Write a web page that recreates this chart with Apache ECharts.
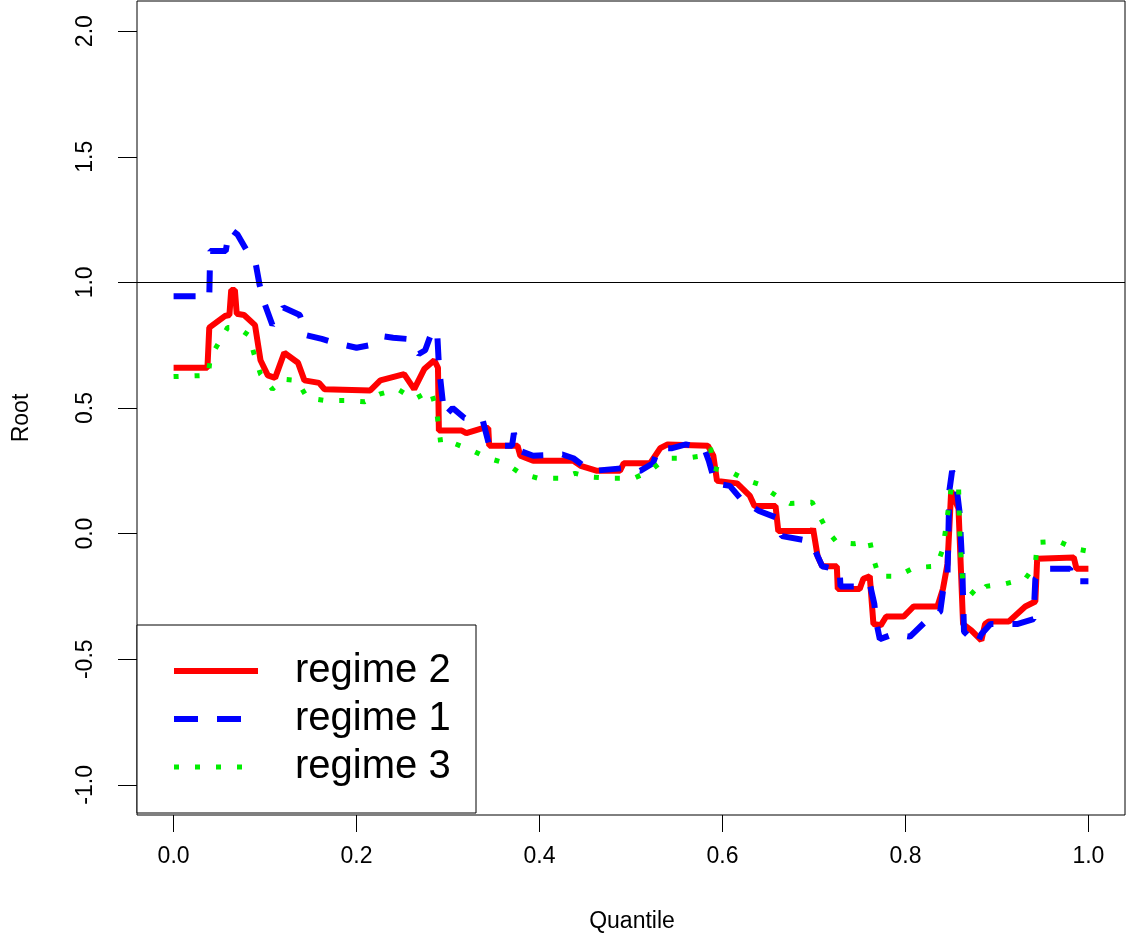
<!DOCTYPE html>
<html>
<head>
<meta charset="utf-8">
<script src="https://cdn.jsdelivr.net/npm/echarts@6/dist/echarts.min.js"></script>
<style>
html, body { margin: 0; padding: 0; background: #fff; }
#chart { width: 1126px; height: 938px; }
</style>
</head>
<body>
<div id="chart"></div>
<script>
// tick values
var xTicks = [0, 0.2, 0.4, 0.6, 0.8, 1.0];
var yTicks = [-1, -0.5, 0, 0.5, 1, 1.5, 2];
var refLevel = 1;

// [quantile, root]
var regime2 = [
  [0.000, 0.66], [0.037, 0.66], [0.039, 0.82], [0.056, 0.866], [0.061, 0.87], [0.063, 0.97],
  [0.067, 0.97], [0.069, 0.875], [0.077, 0.87], [0.089, 0.83], [0.095, 0.69], [0.103, 0.63],
  [0.111, 0.62], [0.121, 0.72], [0.136, 0.68], [0.143, 0.61], [0.159, 0.60], [0.165, 0.575],
  [0.215, 0.57], [0.226, 0.61], [0.252, 0.635], [0.263, 0.575], [0.274, 0.655], [0.285, 0.69],
  [0.289, 0.66], [0.290, 0.41], [0.315, 0.41], [0.320, 0.40], [0.338, 0.42], [0.344, 0.42],
  [0.345, 0.35], [0.376, 0.35], [0.379, 0.31], [0.393, 0.29], [0.437, 0.29], [0.445, 0.27],
  [0.463, 0.25], [0.488, 0.25], [0.492, 0.28], [0.521, 0.28], [0.532, 0.34], [0.540, 0.355],
  [0.584, 0.35], [0.590, 0.31], [0.594, 0.21], [0.616, 0.20], [0.630, 0.15], [0.635, 0.11],
  [0.658, 0.11], [0.661, 0.01], [0.698, 0.01], [0.699, 0.02], [0.704, -0.09], [0.709, -0.13],
  [0.725, -0.13], [0.726, -0.22], [0.750, -0.22], [0.754, -0.18], [0.761, -0.17], [0.765, -0.36],
  [0.773, -0.365], [0.779, -0.33], [0.798, -0.33], [0.809, -0.29], [0.835, -0.29], [0.841, -0.22],
  [0.846, -0.12], [0.850, 0.17], [0.858, 0.10], [0.863, -0.36], [0.872, -0.385], [0.883, -0.425],
  [0.887, -0.36], [0.891, -0.35], [0.913, -0.35], [0.931, -0.29], [0.942, -0.27], [0.944, -0.10],
  [0.984, -0.095], [0.987, -0.14], [1.000, -0.14]
];
var regime1 = [
  [0.000, 0.945], [0.036, 0.945], [0.039, 0.94], [0.040, 1.125], [0.057, 1.125], [0.060, 1.19],
  [0.063, 1.21], [0.070, 1.19], [0.081, 1.12], [0.090, 1.07], [0.094, 0.99], [0.100, 0.91],
  [0.108, 0.83], [0.120, 0.90], [0.138, 0.87], [0.145, 0.79], [0.162, 0.775], [0.181, 0.755],
  [0.200, 0.74], [0.215, 0.75], [0.230, 0.785], [0.240, 0.78], [0.255, 0.775], [0.268, 0.715],
  [0.275, 0.73], [0.282, 0.80], [0.288, 0.81], [0.290, 0.67], [0.292, 0.60], [0.295, 0.50],
  [0.297, 0.47], [0.305, 0.50], [0.318, 0.46], [0.338, 0.45], [0.343, 0.38], [0.345, 0.35],
  [0.370, 0.35], [0.372, 0.40], [0.378, 0.33], [0.393, 0.31], [0.425, 0.315], [0.437, 0.30],
  [0.448, 0.27], [0.460, 0.25], [0.490, 0.26], [0.510, 0.25], [0.524, 0.28], [0.530, 0.34],
  [0.545, 0.34], [0.560, 0.355], [0.580, 0.34], [0.585, 0.29], [0.592, 0.20], [0.608, 0.19],
  [0.622, 0.13], [0.640, 0.09], [0.658, 0.065], [0.665, -0.01], [0.688, -0.025], [0.699, -0.05],
  [0.709, -0.13], [0.728, -0.145], [0.729, -0.21], [0.750, -0.21], [0.761, -0.20], [0.766, -0.28],
  [0.768, -0.35], [0.772, -0.42], [0.787, -0.40], [0.805, -0.41], [0.822, -0.35], [0.838, -0.31],
  [0.841, -0.23], [0.846, -0.16], [0.848, 0.17], [0.851, 0.25], [0.856, 0.18], [0.859, 0.09],
  [0.862, -0.12], [0.864, -0.39], [0.878, -0.44], [0.883, -0.40], [0.893, -0.36], [0.922, -0.36],
  [0.940, -0.34], [0.942, -0.18], [0.950, -0.14], [0.980, -0.14], [0.982, -0.19], [1.000, -0.19]
];
var regime3 = [
  [0.000, 0.625], [0.038, 0.63], [0.040, 0.70], [0.051, 0.77], [0.059, 0.82], [0.070, 0.82],
  [0.082, 0.79], [0.088, 0.715], [0.095, 0.635], [0.108, 0.575], [0.119, 0.615], [0.135, 0.61],
  [0.146, 0.54], [0.165, 0.53], [0.187, 0.53], [0.209, 0.525], [0.225, 0.555], [0.245, 0.575],
  [0.263, 0.535], [0.281, 0.57], [0.287, 0.50], [0.290, 0.42], [0.292, 0.36], [0.306, 0.36],
  [0.327, 0.33], [0.344, 0.30], [0.363, 0.28], [0.379, 0.24], [0.399, 0.22], [0.423, 0.22],
  [0.439, 0.24], [0.456, 0.225], [0.480, 0.22], [0.503, 0.22], [0.521, 0.25], [0.538, 0.30],
  [0.560, 0.30], [0.579, 0.31], [0.587, 0.34], [0.590, 0.26], [0.612, 0.24], [0.625, 0.215],
  [0.641, 0.195], [0.659, 0.15], [0.674, 0.12], [0.698, 0.125], [0.706, 0.07], [0.715, 0.01],
  [0.725, -0.035], [0.744, -0.04], [0.761, -0.03], [0.765, -0.10], [0.771, -0.17], [0.791, -0.17],
  [0.810, -0.135], [0.834, -0.13], [0.841, -0.06], [0.850, 0.18], [0.858, 0.20], [0.859, 0.04],
  [0.861, -0.115], [0.863, -0.20], [0.878, -0.25], [0.888, -0.21], [0.909, -0.20], [0.931, -0.18],
  [0.942, -0.125], [0.944, -0.035], [0.967, -0.03], [0.985, -0.06], [1.000, -0.07]
];

var myChart = echarts.init(document.getElementById('chart'), null, { renderer: 'canvas' });
var font = '"Liberation Sans", Arial, sans-serif';
var red = '#ff0000', blue = '#0000ff', green = '#00ee00';

var option = {
  backgroundColor: '#fff',
  animation: false,
  grid: {
    left: 137, right: 1, top: 1, bottom: 123,
    show: true, borderColor: '#000', borderWidth: 1, backgroundColor: 'transparent'
  },
  xAxis: {
    type: 'value', min: -0.04, max: 1.04,
    splitLine: { show: false },
    axisLine: { show: false, onZero: false },
    axisTick: { show: true, length: 17, customValues: xTicks, lineStyle: { color: '#000', width: 1 } },
    axisLabel: {
      customValues: xTicks, margin: 30, color: '#000', fontSize: 23, fontFamily: font,
      formatter: function (v) { return v.toFixed(1); }
    }
  },
  yAxis: {
    type: 'value', min: -1.12, max: 2.12,
    splitLine: { show: false },
    axisLine: { show: false, onZero: false },
    axisTick: { show: true, length: 19, customValues: yTicks, lineStyle: { color: '#000', width: 1 } },
    axisLabel: {
      customValues: yTicks, margin: 40, rotate: 90, color: '#000', fontSize: 23, fontFamily: font,
      formatter: function (v) { return v.toFixed(1); }
    }
  },
  legend: {
    orient: 'vertical', left: 171, top: 651, padding: 0,
    itemWidth: 84, itemHeight: 30, itemGap: 8,
    itemStyle: { opacity: 0 },
    data: [
      { name: 'regime 2', lineStyle: { color: red, width: 6, type: 'solid' } },
      { name: 'regime 1', lineStyle: { color: blue, width: 6, type: [24, 19] } },
      { name: 'regime 3', lineStyle: { color: green, width: 5, type: [5, 16] } }
    ],
    textStyle: { fontSize: 40, fontFamily: font, color: '#000', lineHeight: 30, padding: [0, 0, 0, 32] }
  },
  graphic: [
    { type: 'rect', z: 3, shape: { x: 137, y: 625, width: 339, height: 188 },
      style: { fill: '#fff', stroke: '#000', lineWidth: 1 } },
    { type: 'text', x: 22, y: 418, rotation: Math.PI / 2,
      style: { text: 'Root', fontSize: 23, fontFamily: font, fill: '#000', align: 'center', verticalAlign: 'middle' } },
    { type: 'text', x: 632, y: 922,
      style: { text: 'Quantile', fontSize: 23, fontFamily: font, fill: '#000', align: 'center', verticalAlign: 'middle' } }
  ],
  series: [
    {
      name: 'regime 2', type: 'line', data: regime2, symbol: 'none',
      lineStyle: { color: red, width: 6, type: 'solid' },
      itemStyle: { color: red },
      markLine: {
        silent: true, symbol: 'none', label: { show: false },
        lineStyle: { color: '#000', width: 1, type: 'solid' },
        data: [{ yAxis: refLevel }]
      }
    },
    {
      name: 'regime 1', type: 'line', data: regime1, symbol: 'none',
      lineStyle: { color: blue, width: 6, type: [22, 19] },
      itemStyle: { color: blue }
    },
    {
      name: 'regime 3', type: 'line', data: regime3, symbol: 'none',
      lineStyle: { color: green, width: 5, type: [5, 16] },
      itemStyle: { color: green }
    }
  ]
};
myChart.setOption(option);
window.onresize = myChart.resize;
</script>
</body>
</html>
